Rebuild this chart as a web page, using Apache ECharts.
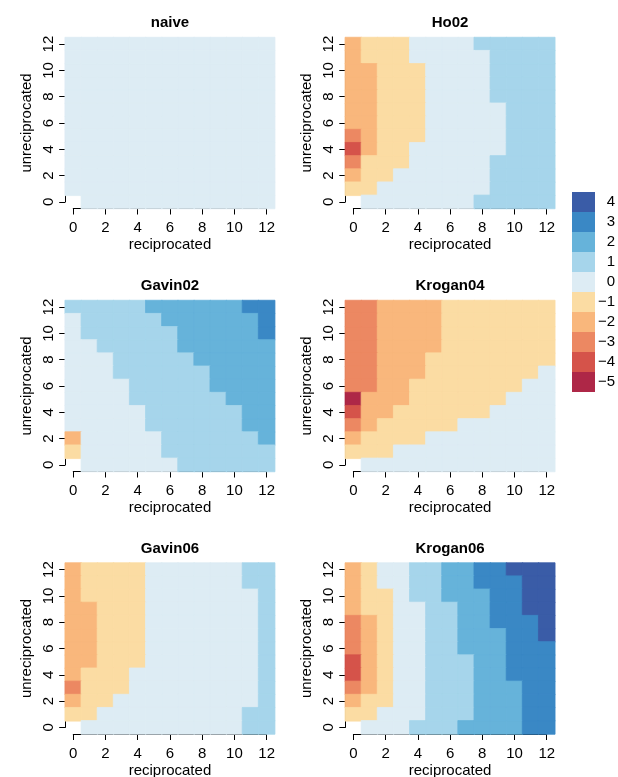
<!DOCTYPE html>
<html>
<head>
<meta charset="utf-8">
<script src="https://cdn.jsdelivr.net/npm/echarts@6/dist/echarts.min.js"></script>
<style>
  html, body { margin: 0; padding: 0; background: #fff; }
  #chart { width: 618px; height: 777px; }
</style>
</head>
<body>
<div id="chart"></div>
<script>
// axis categories 0..12 (both reciprocated and unreciprocated)
var cats = ['0', '1', '2', '3', '4', '5', '6', '7', '8', '9', '10', '11', '12'];
var panelNames = ['naive', 'Ho02', 'Gavin02', 'Krogan04', 'Gavin06', 'Krogan06'];

// each grid: rows from unreciprocated = 12 (top) down to 0, columns reciprocated 0..12
var naive = [
  [0, 0, 0, 0, 0, 0, 0, 0, 0, 0, 0, 0, 0],
  [0, 0, 0, 0, 0, 0, 0, 0, 0, 0, 0, 0, 0],
  [0, 0, 0, 0, 0, 0, 0, 0, 0, 0, 0, 0, 0],
  [0, 0, 0, 0, 0, 0, 0, 0, 0, 0, 0, 0, 0],
  [0, 0, 0, 0, 0, 0, 0, 0, 0, 0, 0, 0, 0],
  [0, 0, 0, 0, 0, 0, 0, 0, 0, 0, 0, 0, 0],
  [0, 0, 0, 0, 0, 0, 0, 0, 0, 0, 0, 0, 0],
  [0, 0, 0, 0, 0, 0, 0, 0, 0, 0, 0, 0, 0],
  [0, 0, 0, 0, 0, 0, 0, 0, 0, 0, 0, 0, 0],
  [0, 0, 0, 0, 0, 0, 0, 0, 0, 0, 0, 0, 0],
  [0, 0, 0, 0, 0, 0, 0, 0, 0, 0, 0, 0, 0],
  [0, 0, 0, 0, 0, 0, 0, 0, 0, 0, 0, 0, 0],
  [null, 0, 0, 0, 0, 0, 0, 0, 0, 0, 0, 0, 0]
];
var ho02 = [
  [-2, -1, -1, -1, 0, 0, 0, 0, 1, 1, 1, 1, 1],
  [-2, -1, -1, -1, 0, 0, 0, 0, 0, 1, 1, 1, 1],
  [-2, -2, -1, -1, -1, 0, 0, 0, 0, 1, 1, 1, 1],
  [-2, -2, -1, -1, -1, 0, 0, 0, 0, 1, 1, 1, 1],
  [-2, -2, -1, -1, -1, 0, 0, 0, 0, 1, 1, 1, 1],
  [-2, -2, -1, -1, -1, 0, 0, 0, 0, 0, 1, 1, 1],
  [-2, -2, -1, -1, -1, 0, 0, 0, 0, 0, 1, 1, 1],
  [-3, -2, -1, -1, -1, 0, 0, 0, 0, 0, 1, 1, 1],
  [-4, -2, -1, -1, 0, 0, 0, 0, 0, 0, 1, 1, 1],
  [-3, -1, -1, -1, 0, 0, 0, 0, 0, 1, 1, 1, 1],
  [-2, -1, -1, 0, 0, 0, 0, 0, 0, 1, 1, 1, 1],
  [-1, -1, 0, 0, 0, 0, 0, 0, 0, 1, 1, 1, 1],
  [null, 0, 0, 0, 0, 0, 0, 0, 1, 1, 1, 1, 1]
];
var gavin02 = [
  [1, 1, 1, 1, 1, 2, 2, 2, 2, 2, 2, 3, 3],
  [0, 1, 1, 1, 1, 1, 2, 2, 2, 2, 2, 2, 3],
  [0, 1, 1, 1, 1, 1, 1, 2, 2, 2, 2, 2, 3],
  [0, 0, 1, 1, 1, 1, 1, 2, 2, 2, 2, 2, 2],
  [0, 0, 0, 1, 1, 1, 1, 1, 2, 2, 2, 2, 2],
  [0, 0, 0, 1, 1, 1, 1, 1, 1, 2, 2, 2, 2],
  [0, 0, 0, 0, 1, 1, 1, 1, 1, 2, 2, 2, 2],
  [0, 0, 0, 0, 1, 1, 1, 1, 1, 1, 2, 2, 2],
  [0, 0, 0, 0, 0, 1, 1, 1, 1, 1, 1, 2, 2],
  [0, 0, 0, 0, 0, 1, 1, 1, 1, 1, 1, 2, 2],
  [-2, 0, 0, 0, 0, 0, 1, 1, 1, 1, 1, 1, 2],
  [-1, 0, 0, 0, 0, 0, 1, 1, 1, 1, 1, 1, 1],
  [null, 0, 0, 0, 0, 0, 0, 1, 1, 1, 1, 1, 1]
];
var krogan04 = [
  [-3, -3, -2, -2, -2, -2, -1, -1, -1, -1, -1, -1, -1],
  [-3, -3, -2, -2, -2, -2, -1, -1, -1, -1, -1, -1, -1],
  [-3, -3, -2, -2, -2, -2, -1, -1, -1, -1, -1, -1, -1],
  [-3, -3, -2, -2, -2, -2, -1, -1, -1, -1, -1, -1, -1],
  [-3, -3, -2, -2, -2, -1, -1, -1, -1, -1, -1, -1, -1],
  [-3, -3, -2, -2, -2, -1, -1, -1, -1, -1, -1, -1, 0],
  [-3, -3, -2, -2, -1, -1, -1, -1, -1, -1, -1, 0, 0],
  [-5, -2, -2, -2, -1, -1, -1, -1, -1, -1, 0, 0, 0],
  [-4, -2, -2, -1, -1, -1, -1, -1, -1, 0, 0, 0, 0],
  [-3, -2, -1, -1, -1, -1, -1, 0, 0, 0, 0, 0, 0],
  [-2, -1, -1, -1, -1, 0, 0, 0, 0, 0, 0, 0, 0],
  [-1, -1, -1, 0, 0, 0, 0, 0, 0, 0, 0, 0, 0],
  [null, 0, 0, 0, 0, 0, 0, 0, 0, 0, 0, 0, 0]
];
var gavin06 = [
  [-2, -1, -1, -1, -1, 0, 0, 0, 0, 0, 0, 1, 1],
  [-2, -1, -1, -1, -1, 0, 0, 0, 0, 0, 0, 1, 1],
  [-2, -1, -1, -1, -1, 0, 0, 0, 0, 0, 0, 0, 1],
  [-2, -2, -1, -1, -1, 0, 0, 0, 0, 0, 0, 0, 1],
  [-2, -2, -1, -1, -1, 0, 0, 0, 0, 0, 0, 0, 1],
  [-2, -2, -1, -1, -1, 0, 0, 0, 0, 0, 0, 0, 1],
  [-2, -2, -1, -1, -1, 0, 0, 0, 0, 0, 0, 0, 1],
  [-2, -2, -1, -1, -1, 0, 0, 0, 0, 0, 0, 0, 1],
  [-2, -1, -1, -1, 0, 0, 0, 0, 0, 0, 0, 0, 1],
  [-3, -1, -1, -1, 0, 0, 0, 0, 0, 0, 0, 0, 1],
  [-2, -1, -1, 0, 0, 0, 0, 0, 0, 0, 0, 0, 1],
  [-1, -1, 0, 0, 0, 0, 0, 0, 0, 0, 0, 1, 1],
  [null, 0, 0, 0, 0, 0, 0, 0, 0, 0, 0, 1, 1]
];
var krogan06 = [
  [-2, -1, 0, 0, 1, 1, 2, 2, 3, 3, 4, 4, 4],
  [-2, -1, 0, 0, 1, 1, 2, 2, 3, 3, 3, 4, 4],
  [-2, -1, -1, 0, 1, 1, 2, 2, 2, 3, 3, 4, 4],
  [-2, -1, -1, 0, 0, 1, 1, 2, 2, 3, 3, 4, 4],
  [-3, -2, -1, 0, 0, 1, 1, 2, 2, 3, 3, 3, 4],
  [-3, -2, -1, 0, 0, 1, 1, 2, 2, 2, 3, 3, 4],
  [-3, -2, -1, 0, 0, 1, 1, 2, 2, 2, 3, 3, 3],
  [-4, -2, -1, 0, 0, 1, 1, 1, 2, 2, 3, 3, 3],
  [-4, -2, -1, 0, 0, 1, 1, 1, 2, 2, 3, 3, 3],
  [-3, -2, -1, 0, 0, 1, 1, 1, 2, 2, 2, 3, 3],
  [-2, -1, -1, 0, 0, 1, 1, 1, 2, 2, 2, 3, 3],
  [-1, -1, 0, 0, 0, 1, 1, 1, 2, 2, 2, 3, 3],
  [null, 0, 0, 0, 1, 1, 1, 2, 2, 2, 2, 3, 3]
];
var panelData = [naive, ho02, gavin02, krogan04, gavin06, krogan06];

// legend
var legendValues = [-5, -4, -3, -2, -1, 0, 1, 2, 3, 4];
var legendLabels = ['\u22125', '\u22124', '\u22123', '\u22122', '\u22121', '0', '1', '2', '3', '4'];
var legendColors = ['#ae2747', '#d5534a', '#ec8862', '#f9b77c', '#fbdca3',
                    '#ddecf4', '#a6d5eb', '#66b3da', '#3a88c5', '#3a5ca7'];

var FONT = '"Liberation Sans", Arial, Helvetica, sans-serif';
var colLeft = [65.2, 345.3];
var rowTop = [37.5, 300.5, 563];
var W = 209.5, H = 171;
var cw = W / 13, ch = H / 13;

var grids = [], xAxes = [], yAxes = [], series = [], titles = [];

panelData.forEach(function (rows, i) {
  var left = colLeft[i % 2];
  var top = rowTop[Math.floor(i / 2)];
  var g = grids.length;

  // heat cells
  grids.push({ left: left, top: top, width: W, height: H, outerBoundsMode: 'none' });
  // axes, inset half a cell so lines run from tick 0 to tick 12
  grids.push({ left: left + cw / 2, top: top + ch / 2, width: W - cw, height: H - ch, outerBoundsMode: 'none' });

  xAxes.push({ type: 'category', gridIndex: g, data: cats, show: false });
  yAxes.push({ type: 'category', gridIndex: g, data: cats, show: false });

  xAxes.push({
    type: 'value', gridIndex: g + 1, min: 0, max: 12, interval: 2,
    position: 'bottom', offset: ch / 2,
    axisLine: { show: true, onZero: false, lineStyle: { color: '#000', width: 1 } },
    axisTick: { show: true, length: 6, lineStyle: { color: '#000' } },
    axisLabel: { fontSize: 15, color: '#000', fontFamily: FONT, margin: 12 },
    splitLine: { show: false },
    name: 'reciprocated', nameLocation: 'middle', nameGap: 29,
    nameTextStyle: { fontSize: 15, color: '#000', fontFamily: FONT }
  });
  yAxes.push({
    type: 'value', gridIndex: g + 1, min: 0, max: 12, interval: 2,
    position: 'left', offset: cw / 2,
    axisLine: { show: true, onZero: false, lineStyle: { color: '#000', width: 1 } },
    axisTick: { show: true, length: 6, lineStyle: { color: '#000' } },
    axisLabel: { fontSize: 15, color: '#000', fontFamily: FONT, margin: 9, rotate: 90 },
    splitLine: { show: false },
    name: 'unreciprocated', nameLocation: 'middle', nameGap: 31, nameRotate: 90,
    nameTextStyle: { fontSize: 15, color: '#000', fontFamily: FONT }
  });

  var data = [];
  rows.forEach(function (row, r) {
    row.forEach(function (v, c) {
      if (v === null) return;
      // thin same-colour border closes anti-aliasing seams between cells
      data.push({
        value: [c, 12 - r, v],
        itemStyle: { borderColor: legendColors[legendValues.indexOf(v)], borderWidth: 0.8 }
      });
    });
  });
  series.push({
    type: 'heatmap', name: panelNames[i],
    xAxisIndex: g, yAxisIndex: g,
    data: data,
    emphasis: { disabled: true },
    progressive: 0
  });

  titles.push({
    text: panelNames[i],
    left: left + W / 2, top: top - 22, textAlign: 'center', padding: 0,
    textStyle: { fontSize: 15, fontWeight: 'bold', color: '#000', fontFamily: FONT }
  });
});

var pieces = legendValues.map(function (v, k) {
  return { value: v, color: legendColors[k], label: '{a|' + legendLabels[k] + '}' };
});

var chart = echarts.init(document.getElementById('chart'), null, { renderer: 'canvas' });
chart.setOption({
  animation: false,
  backgroundColor: '#fff',
  title: titles,
  grid: grids,
  xAxis: xAxes,
  yAxis: yAxes,
  visualMap: {
    type: 'piecewise',
    seriesIndex: [0, 1, 2, 3, 4, 5],
    pieces: pieces,
    orient: 'vertical',
    align: 'left',
    left: 572, top: 192,
    padding: 0,
    itemWidth: 23, itemHeight: 20, itemGap: 0,
    itemSymbol: 'rect',
    textGap: 2,
    hoverLink: false,
    selectedMode: false,
    textStyle: {
      fontSize: 15, color: '#000', fontFamily: FONT,
      rich: { a: { width: 18, align: 'right', fontSize: 15, color: '#000', fontFamily: FONT } }
    }
  },
  series: series
});
</script>
</body>
</html>
